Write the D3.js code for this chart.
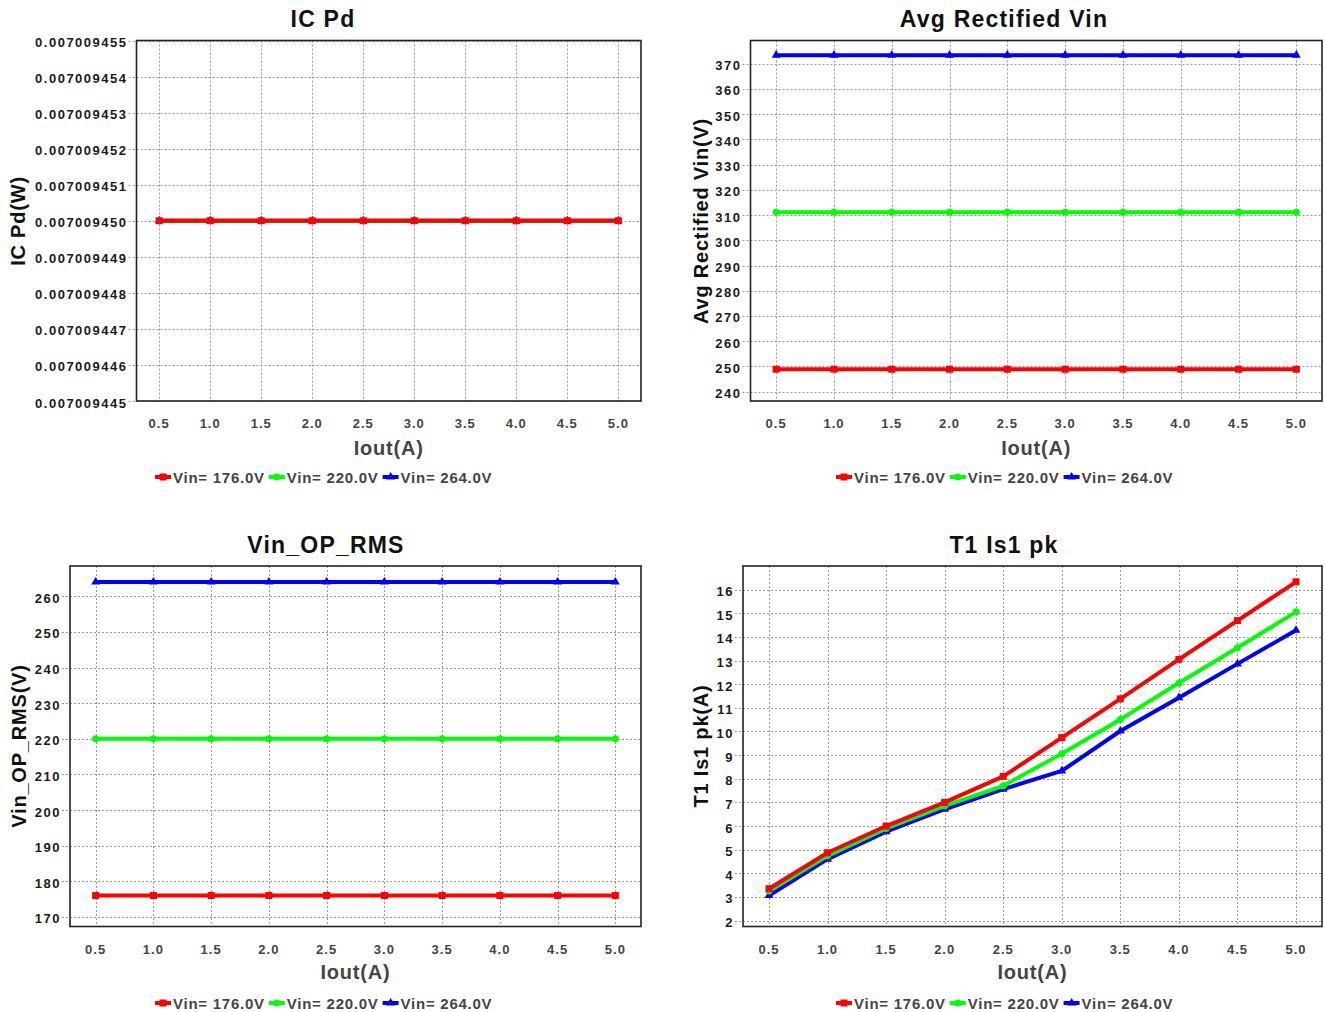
<!DOCTYPE html>
<html>
<head>
<meta charset="utf-8">
<script src="https://cdn.jsdelivr.net/npm/d3@7"></script>
<style>
  html, body { margin: 0; padding: 0; background: #fff; }
  svg { display: block; font-family: "Liberation Sans", Arial, sans-serif; font-weight: bold; }
</style>
</head>
<body>
<svg id="chart" width="1325" height="1012"></svg>
<script>
// ---------------- DATA ----------------
const iout = [0.5, 1.0, 1.5, 2.0, 2.5, 3.0, 3.5, 4.0, 4.5, 5.0];
const xTickLabels = ["0.5", "1.0", "1.5", "2.0", "2.5", "3.0", "3.5", "4.0", "4.5", "5.0"];
const seriesNames = ["Vin= 176.0V", "Vin= 220.0V", "Vin= 264.0V"];
const seriesColors = ["#ff0000", "#00ff00", "#0000ff"];

// IC Pd (W)
const icPd176 = [0.00700945, 0.00700945, 0.00700945, 0.00700945, 0.00700945, 0.00700945, 0.00700945, 0.00700945, 0.00700945, 0.00700945];
const icPd220 = [0.00700945, 0.00700945, 0.00700945, 0.00700945, 0.00700945, 0.00700945, 0.00700945, 0.00700945, 0.00700945, 0.00700945];
const icPd264 = [0.00700945, 0.00700945, 0.00700945, 0.00700945, 0.00700945, 0.00700945, 0.00700945, 0.00700945, 0.00700945, 0.00700945];
const icPdTicks = [0.007009445, 0.007009446, 0.007009447, 0.007009448, 0.007009449, 0.007009450, 0.007009451, 0.007009452, 0.007009453, 0.007009454, 0.007009455];

// Avg Rectified Vin (V)
const avgVin176 = [248.9, 248.9, 248.9, 248.9, 248.9, 248.9, 248.9, 248.9, 248.9, 248.9];
const avgVin220 = [311.1, 311.1, 311.1, 311.1, 311.1, 311.1, 311.1, 311.1, 311.1, 311.1];
const avgVin264 = [373.4, 373.4, 373.4, 373.4, 373.4, 373.4, 373.4, 373.4, 373.4, 373.4];
const avgVinTicks = [240, 250, 260, 270, 280, 290, 300, 310, 320, 330, 340, 350, 360, 370];

// Vin_OP_RMS (V)
const vinRms176 = [176, 176, 176, 176, 176, 176, 176, 176, 176, 176];
const vinRms220 = [220, 220, 220, 220, 220, 220, 220, 220, 220, 220];
const vinRms264 = [264, 264, 264, 264, 264, 264, 264, 264, 264, 264];
const vinRmsTicks = [170, 180, 190, 200, 210, 220, 230, 240, 250, 260];

// T1 Is1 pk (A)
const is1pk176 = [3.35, 4.87, 6.0, 7.0, 8.1, 9.74, 11.38, 13.05, 14.69, 16.33];
const is1pk220 = [3.25, 4.74, 5.9, 6.85, 7.7, 9.06, 10.51, 12.05, 13.54, 15.06];
const is1pk264 = [3.06, 4.6, 5.76, 6.71, 7.56, 8.33, 10.02, 11.43, 12.86, 14.28];
const is1pkTicks = [2, 3, 4, 5, 6, 7, 8, 9, 10, 11, 12, 13, 14, 15, 16];

// ---------------- LAYOUT ----------------
const svg = d3.select("#chart");

const panels = [
  { title: "IC Pd", yTitle: "IC Pd(W)", series: [icPd176, icPd220, icPd264], ticks: icPdTicks, fmt: d3.format(".9f"),
    yDomain: [0.007009445, 0.007009455], x0: 136.5, x1: 641, y0: 40.5, y1: 401,
    titleX: 323, titleY: 27, yTitleX: 18, yTitleY: 221, legendX: 155, legendY: 477, tickY: 428, xTitleY: 455 },
  { title: "Avg Rectified Vin", yTitle: "Avg Rectified Vin(V)", series: [avgVin176, avgVin220, avgVin264], ticks: avgVinTicks, fmt: d3.format("d"),
    yDomain: [236.3, 379.2], x0: 750.5, x1: 1322, y0: 40.5, y1: 401,
    titleX: 1004, titleY: 27, yTitleX: 700.5, yTitleY: 221, legendX: 836, legendY: 477, tickY: 428, xTitleY: 455 },
  { title: "Vin_OP_RMS", yTitle: "Vin_OP_RMS(V)", series: [vinRms176, vinRms220, vinRms264], ticks: vinRmsTicks, fmt: d3.format("d"),
    yDomain: [167.3, 268.5], x0: 70, x1: 641, y0: 566, y1: 926.5,
    titleX: 326, titleY: 553, yTitleX: 19, yTitleY: 746, legendX: 155, legendY: 1003, tickY: 954, xTitleY: 979 },
  { title: "T1 Is1 pk", yTitle: "T1 Is1 pk(A)", series: [is1pk176, is1pk220, is1pk264], ticks: is1pkTicks, fmt: d3.format("d"),
    yDomain: [1.75, 17], x0: 743, x1: 1322, y0: 566, y1: 926.5,
    titleX: 1004, titleY: 553, yTitleX: 701, yTitleY: 746, legendX: 836, legendY: 1003, tickY: 954, xTitleY: 979 }
];

const xPad = 0.222;

function drawMarker(g, i, cx, cy) {
  if (i === 0) {
    g.append("rect").attr("x", cx - 3.5).attr("y", cy - 3.5).attr("width", 7).attr("height", 7).attr("fill", seriesColors[i]);
  } else if (i === 1) {
    g.append("circle").attr("cx", cx).attr("cy", cy).attr("r", 3.5).attr("fill", seriesColors[i]);
  } else {
    g.append("path").attr("d", d3.symbol().type(d3.symbolTriangle).size(34)()).attr("transform", `translate(${cx},${cy})`).attr("fill", seriesColors[i]);
  }
}

panels.forEach(p => {
  const g = svg.append("g");
  const x = d3.scaleLinear().domain([iout[0] - xPad, iout[iout.length - 1] + xPad]).range([p.x0, p.x1]);
  const y = d3.scaleLinear().domain(p.yDomain).range([p.y1, p.y0]);

  // grid
  const grid = g.append("g").attr("stroke", "#9a9a9a").attr("stroke-width", 1).attr("stroke-dasharray", "2,2").attr("fill", "none");
  iout.forEach(v => {
    const xx = Math.round(x(v)) + 0.5;
    grid.append("line").attr("x1", xx).attr("x2", xx).attr("y1", p.y0).attr("y2", p.y1);
  });
  p.ticks.forEach(v => {
    const yy = Math.round(y(v)) + 0.5;
    grid.append("line").attr("x1", p.x0 - 8).attr("x2", p.x1).attr("y1", yy).attr("y2", yy);
  });

  // y tick labels
  const yl = g.append("g").attr("font-size", 13).attr("fill", "#1a1a1a").attr("text-anchor", "end");
  p.ticks.forEach(v => {
    yl.append("text").attr("x", p.x0 - 9).attr("y", y(v) + 6.5).attr("letter-spacing", 1.5).text(p.fmt(v));
  });

  // x tick labels
  const xl = g.append("g").attr("font-size", 13).attr("fill", "#444").attr("text-anchor", "middle");
  iout.forEach((v, i) => {
    xl.append("text").attr("x", x(v)).attr("y", p.tickY).attr("letter-spacing", 1).text(xTickLabels[i]);
  });

  // series (draw last series first so first is on top)
  const line = d3.line().x((d, i) => x(iout[i])).y(d => y(d));
  for (let s = p.series.length - 1; s >= 0; s--) {
    g.append("path").datum(p.series[s]).attr("d", line).attr("fill", "none")
      .attr("stroke", seriesColors[s]).attr("stroke-width", 4).attr("stroke-linejoin", "round");
    const mg = g.append("g");
    p.series[s].forEach((d, i) => drawMarker(mg, s, x(iout[i]), y(d)));
  }

  // frame
  g.append("rect").attr("x", p.x0).attr("y", p.y0).attr("width", p.x1 - p.x0).attr("height", p.y1 - p.y0)
    .attr("fill", "none").attr("stroke", "#222").attr("stroke-width", 1.6);

  // titles
  g.append("text").attr("x", p.titleX).attr("y", p.titleY).attr("text-anchor", "middle")
    .attr("font-size", 23).attr("letter-spacing", 1.2).attr("fill", "#111").text(p.title);
  g.append("text").attr("x", (p.x0 + p.x1) / 2).attr("y", p.xTitleY).attr("text-anchor", "middle")
    .attr("font-size", 20).attr("letter-spacing", 0.8).attr("fill", "#444").text("Iout(A)");
  g.append("text").attr("transform", `translate(${p.yTitleX},${p.yTitleY}) rotate(-90)`)
    .attr("text-anchor", "middle").attr("dy", "0.36em")
    .attr("font-size", 20).attr("letter-spacing", 0.8).attr("fill", "#111").text(p.yTitle);

  // legend
  let lx = p.legendX;
  seriesNames.forEach((name, i) => {
    const lg = g.append("g");
    lg.append("line").attr("x1", lx).attr("x2", lx + 16).attr("y1", p.legendY).attr("y2", p.legendY)
      .attr("stroke", seriesColors[i]).attr("stroke-width", 4);
    drawMarker(lg, i, lx + 8, p.legendY);
    const t = lg.append("text").attr("x", lx + 18).attr("y", p.legendY + 5.5)
      .attr("font-size", 15).attr("letter-spacing", 0.75).attr("fill", "#444").text(name);
    lx = lx + 18 + t.node().getComputedTextLength() + 4;
  });
});
</script>
</body>
</html>
